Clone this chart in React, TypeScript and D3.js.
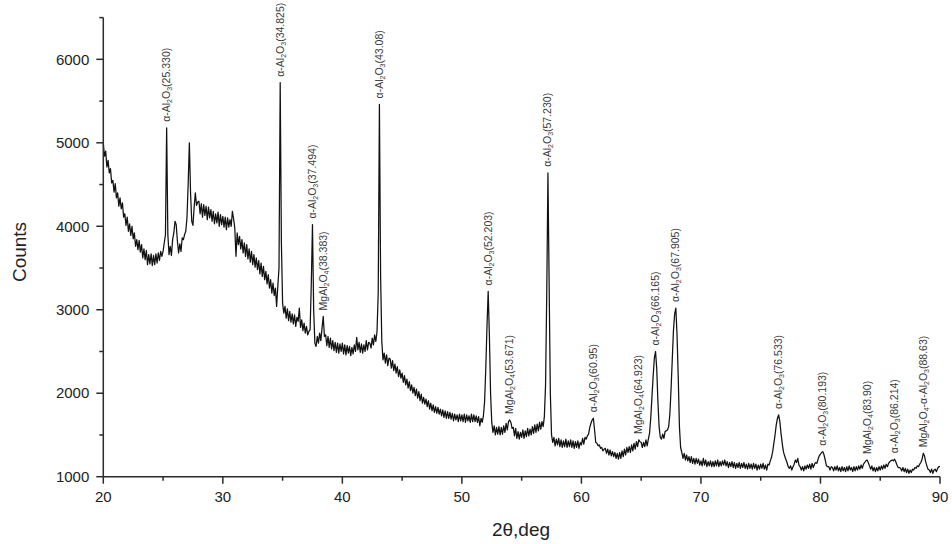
import React from "react";
import * as d3 from "d3";

// Powder XRD scan: 2θ from 20° to 90° in 0.1° steps
const SCAN_START = 20;
const SCAN_STEP = 0.1;

const scan20s = [
  4990, 4840, 4900, 4710, 4790, 4640, 4690, 4520, 4550, 4410,
  4510, 4340, 4400, 4240, 4340, 4210, 4280, 4110, 4150, 4010,
  4110, 3940, 4030, 3890, 4000, 3850, 3920, 3760, 3840, 3720,
  3830, 3690, 3780, 3620, 3730, 3600, 3710, 3540, 3660, 3550,
  3670, 3530, 3650, 3540, 3670, 3560, 3680, 3590, 3700, 3640,
  3700, 3800, 3900, 5180, 3900, 3660, 3760, 3650, 3840, 3920,
  4060, 4020, 3820, 3680, 3790, 3700, 3860, 3840, 3900, 3940,
  4100, 4500, 5000, 4400, 4060, 4010, 4230, 4400, 4250, 4290,
  4300, 4150, 4270, 4110, 4260, 4130, 4240, 4080, 4230, 4100,
  4200, 4060, 4180, 4030, 4150, 4040, 4170, 4000, 4140, 4020,
];
const scan30s = [
  4120, 3990, 4110, 3960, 4100, 3990, 4080, 4000, 4180, 4090,
  3980, 3640, 3920, 3780, 3880, 3730, 3840, 3680, 3800, 3640,
  3780, 3610, 3730, 3570, 3700, 3540, 3660, 3510, 3620, 3480,
  3590, 3430, 3560, 3400, 3520, 3360, 3460, 3310, 3420, 3260,
  3360, 3200, 3320, 3170, 3260, 3040, 3280, 3500, 5720, 3800,
  3080, 2960, 3040, 2900, 3010, 2870, 2980, 2850, 2950, 2830,
  2940, 2800, 2910, 2860, 3020, 2790, 2880, 2750, 2840, 2720,
  2800, 2700, 2740, 2760, 3300, 4020, 3000, 2600, 2560, 2680,
  2600, 2720, 2630, 2780, 2920, 2680, 2700, 2570, 2680, 2550,
  2660, 2530, 2630, 2510, 2610, 2490, 2600, 2480, 2590, 2500,
];
const scan40s = [
  2600, 2470, 2580, 2460, 2570, 2480, 2560, 2450, 2550, 2470,
  2580, 2500, 2670, 2520, 2610, 2490, 2590, 2480, 2580, 2500,
  2630, 2520, 2610, 2600, 2540, 2660, 2580, 2700, 2620, 2740,
  3200, 5460, 3400, 2620, 2400, 2480, 2360, 2460, 2330, 2420,
  2410, 2300, 2390, 2270, 2350, 2240, 2320, 2200, 2280, 2180,
  2240, 2130, 2210, 2100, 2170, 2060, 2140, 2030, 2100, 2000,
  2070, 1970, 2050, 1940, 2020, 1910, 1990, 1880, 1950, 1870,
  1930, 1840, 1910, 1810, 1880, 1790, 1860, 1770, 1840, 1760,
  1830, 1750, 1810, 1730, 1800, 1710, 1790, 1700, 1780, 1700,
  1770, 1690, 1760, 1670, 1750, 1680, 1740, 1660, 1750, 1670,
];
const scan50s = [
  1740, 1660, 1750, 1650, 1740, 1670, 1730, 1650, 1750, 1660,
  1740, 1660, 1730, 1650, 1720, 1610, 1700, 1650, 1730, 1900,
  2300, 2800, 3220, 2700, 2000, 1650, 1530, 1610, 1500, 1590,
  1510, 1600, 1500, 1590, 1510, 1610, 1530, 1640, 1560, 1660,
  1680, 1650, 1580, 1590, 1490, 1580, 1460, 1540, 1450, 1530,
  1470, 1560, 1460, 1550, 1480, 1580, 1490, 1570, 1500, 1600,
  1520, 1620, 1530, 1630, 1550, 1650, 1570, 1660, 1600, 1720,
  2100, 3200, 4640, 3300, 2000, 1500, 1410, 1470, 1370, 1450,
  1380, 1460, 1360, 1440, 1350, 1430, 1360, 1450, 1350, 1430,
  1360, 1440, 1350, 1430, 1340, 1420, 1350, 1430, 1340, 1410,
];
const scan60s = [
  1380, 1460, 1390, 1470, 1450, 1490, 1510, 1590, 1640, 1680,
  1700, 1560, 1410, 1400, 1370, 1380, 1340, 1350, 1310, 1330,
  1340, 1280, 1330, 1260, 1320, 1250, 1300, 1240, 1290, 1220,
  1280, 1210, 1290, 1220, 1310, 1240, 1330, 1260, 1350, 1290,
  1360, 1290, 1380, 1310, 1400, 1330, 1420, 1360, 1440, 1420,
  1410, 1350, 1410, 1360, 1440, 1370, 1450, 1520, 1700, 1950,
  2200, 2420, 2500, 2300, 1900, 1600, 1470, 1450, 1510, 1460,
  1540, 1550, 1560, 1600, 1750, 2050, 2400, 2750, 2950, 3020,
  2700, 2200, 1600, 1350, 1290, 1220, 1280, 1200, 1260, 1190,
  1240, 1170, 1240, 1160, 1220, 1150, 1220, 1160, 1210, 1140,
];
const scan70s = [
  1190, 1130, 1220, 1140, 1200, 1120, 1180, 1130, 1190, 1120,
  1180, 1120, 1190, 1130, 1200, 1120, 1180, 1130, 1190, 1140,
  1200, 1130, 1180, 1110, 1170, 1120, 1180, 1110, 1170, 1100,
  1160, 1110, 1170, 1100, 1160, 1110, 1170, 1100, 1150, 1090,
  1160, 1100, 1150, 1090, 1160, 1100, 1150, 1080, 1140, 1090,
  1150, 1100, 1160, 1090, 1140, 1080, 1150, 1140, 1190, 1230,
  1300, 1400, 1500, 1620, 1700, 1740, 1660, 1520, 1400, 1300,
  1250, 1210, 1170, 1120, 1100, 1130, 1080, 1120, 1150, 1200,
  1170, 1220, 1140, 1120, 1080, 1120, 1070, 1130, 1090, 1140,
  1100, 1150, 1090, 1160, 1110, 1150, 1170, 1160, 1210, 1250,
];
const scan80s = [
  1270, 1290, 1300, 1260, 1200, 1130, 1120, 1120, 1080, 1120,
  1110, 1070, 1120, 1080, 1130, 1070, 1110, 1060, 1120, 1070,
  1110, 1060, 1120, 1070, 1130, 1080, 1110, 1060, 1120, 1070,
  1120, 1080, 1130, 1090, 1140, 1100, 1150, 1170, 1190, 1200,
  1170, 1130, 1090, 1130, 1070, 1110, 1060, 1110, 1070, 1120,
  1080, 1130, 1090, 1140, 1100, 1150, 1120, 1160, 1180, 1190,
  1200, 1190, 1210, 1180, 1140, 1110, 1110, 1100, 1070, 1110,
  1060, 1100, 1050, 1090, 1040, 1080, 1050, 1090, 1080, 1110,
  1100, 1130, 1120, 1150, 1170, 1210, 1280, 1250, 1180, 1130,
  1090, 1080, 1050, 1090, 1040, 1080, 1090, 1060, 1100, 1120,
];
const scan90 = [1120];

// Indexed reflections: peak position (2θ) and phase
const peakPositions = [
  "25.330", "34.825", "37.494", "38.383", "43.08", "52.203", "53.671", "57.230",
  "60.95", "64.923", "66.165", "67.905", "76.533", "80.193", "83.90", "86.214", "88.63",
];
const peakPhases = [
  "a", "a", "a", "s", "a", "a", "s", "a",
  "a", "s", "a", "a", "a", "a", "s", "a", "s+a",
];

const xMajorTicks = [20, 30, 40, 50, 60, 70, 80, 90];
const xMinorTicks = [25, 35, 45, 55, 65, 75, 85];
const yMajorTicks = [1000, 2000, 3000, 4000, 5000, 6000];
const yMinorTicks = [1500, 2500, 3500, 4500, 5500, 6500];

type Part = { t: string; sub?: boolean };

const alumina: Part[] = [{ t: "α-Al" }, { t: "2", sub: true }, { t: "O" }, { t: "3", sub: true }];
const spinel: Part[] = [{ t: "MgAl" }, { t: "2", sub: true }, { t: "O" }, { t: "4", sub: true }];

function phaseParts(phase: string): Part[] {
  if (phase === "a") return alumina;
  if (phase === "s") return spinel;
  return [...spinel, { t: "-" }, ...alumina];
}

export default function App() {
  const W = 952;
  const H = 544;
  const x = d3.scaleLinear().domain([20, 90]).range([103.3, 940]);
  const y = d3.scaleLinear().domain([1000, 6500]).range([476.7, 17.6]);

  const counts = [...scan20s, ...scan30s, ...scan40s, ...scan50s, ...scan60s, ...scan70s, ...scan80s, ...scan90];
  const pts: [number, number][] = counts.map((c, i) => [SCAN_START + i * SCAN_STEP, c]);
  const line = d3
    .line<[number, number]>()
    .x((d) => x(d[0]))
    .y((d) => y(d[1]));

  const axisColor = "#2b2b2b";
  const font = "'Liberation Sans', Arial, sans-serif";

  // Each label sits just above the highest point of its reflection
  const labels = peakPositions.map((p, i) => {
    const theta = parseFloat(p);
    let best: [number, number] | null = null;
    for (const d of pts) {
      if (Math.abs(d[0] - theta) <= 0.4 && (!best || d[1] > best[1])) best = d;
    }
    const b = best as [number, number];
    return { text: p, parts: phaseParts(peakPhases[i]), px: x(b[0]), py: y(b[1]) - 6 };
  });

  const subSize = 7;
  const mainSize = 10.5;

  return (
    <svg width={W} height={H} style={{ position: "absolute", left: 0, top: 0, background: "#fff" }}>
      <path d={line(pts) || ""} fill="none" stroke="#111" strokeWidth={1.25} strokeLinejoin="round" />

      {labels.map((l, i) => (
        <text
          key={i}
          transform={`translate(${l.px + 3.5},${l.py}) rotate(-90)`}
          fontFamily={font}
          fontSize={mainSize}
          fill="#3a3a3a"
        >
          {l.parts.map((pt, j) => (
            <tspan key={j} fontSize={pt.sub ? subSize : mainSize} dy={pt.sub ? 2 : j > 0 && l.parts[j - 1].sub ? -2 : 0}>
              {pt.t}
            </tspan>
          ))}
          <tspan dy={-2}>{`(${l.text})`}</tspan>
        </text>
      ))}

      {/* axes */}
      <line x1={x(20)} x2={x(20)} y1={y(6500)} y2={y(1000)} stroke={axisColor} strokeWidth={1.5} />
      <line x1={x(20)} x2={x(90)} y1={y(1000)} y2={y(1000)} stroke={axisColor} strokeWidth={1.5} />
      {yMajorTicks.map((t) => (
        <g key={t}>
          <line x1={x(20) - 7} x2={x(20)} y1={y(t)} y2={y(t)} stroke={axisColor} strokeWidth={1.5} />
          <text x={x(20) - 14} y={y(t)} dy="0.35em" textAnchor="end" fontFamily={font} fontSize={15} fill="#222">
            {t}
          </text>
        </g>
      ))}
      {yMinorTicks.map((t) => (
        <line key={t} x1={x(20) - 4} x2={x(20)} y1={y(t)} y2={y(t)} stroke={axisColor} strokeWidth={1.5} />
      ))}
      {xMajorTicks.map((t) => (
        <g key={t}>
          <line x1={x(t)} x2={x(t)} y1={y(1000)} y2={y(1000) + 7} stroke={axisColor} strokeWidth={1.5} />
          <text x={x(t)} y={y(1000) + 25} textAnchor="middle" fontFamily={font} fontSize={15} fill="#222">
            {t}
          </text>
        </g>
      ))}
      {xMinorTicks.map((t) => (
        <line key={t} x1={x(t)} x2={x(t)} y1={y(1000)} y2={y(1000) + 4} stroke={axisColor} strokeWidth={1.5} />
      ))}

      <text x={521} y={536} textAnchor="middle" fontFamily={font} fontSize={19} fill="#222">
        2θ,deg
      </text>
      <text transform={`translate(26,252) rotate(-90)`} textAnchor="middle" fontFamily={font} fontSize={19} fill="#222">
        Counts
      </text>
    </svg>
  );
}
